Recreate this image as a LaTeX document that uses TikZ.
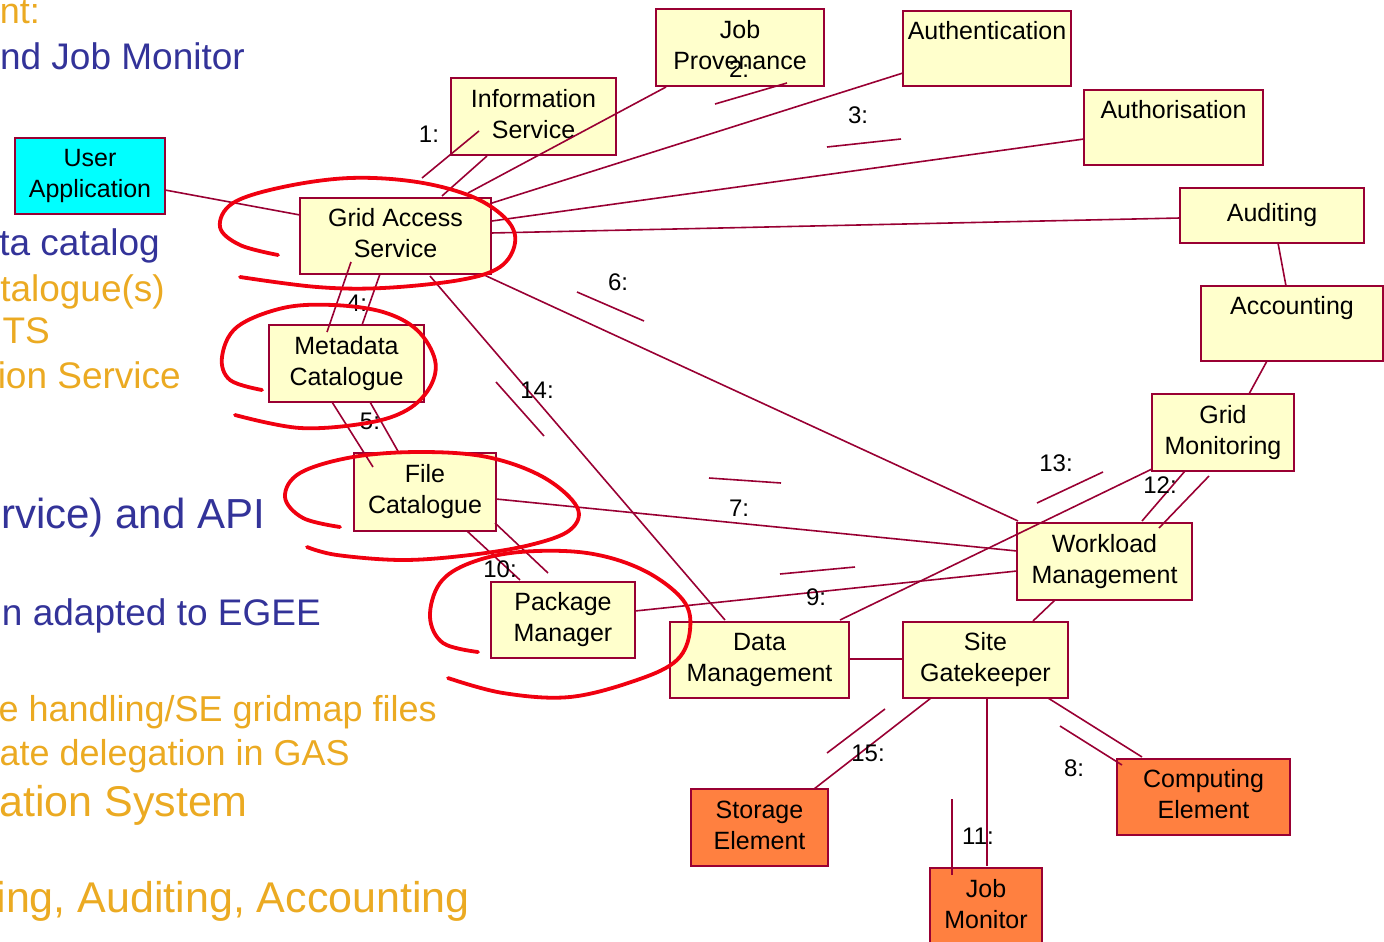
\documentclass[tikz,border=0pt]{standalone}
\usepackage{fontspec}
\setmainfont{Liberation Sans}
\usetikzlibrary{calc}
\definecolor{boxfill}{HTML}{FFFFCC}
\definecolor{wire}{HTML}{990033}
\definecolor{appcyan}{HTML}{00FFFF}
\definecolor{hostorange}{HTML}{FF8040}
\definecolor{slideblue}{HTML}{333399}
\definecolor{slideorange}{HTML}{EBAA22}
\definecolor{pen}{HTML}{F00010}
\newcommand{\tstrut}{\rule{0pt}{18pt}}
\newcommand{\bstrut}{\rule[-6pt]{0pt}{6pt}}
\begin{document}
\begin{tikzpicture}[x=1pt,y=-1pt,
  comp/.style={draw=wire, line width=2pt, fill=boxfill, anchor=north west,
    align=center, inner sep=0pt, outer sep=0pt,
    font=\fontsize{25}{31}\selectfont},
  app/.style={comp, fill=appcyan},
  res/.style={comp, fill=hostorange},
  link/.style={draw=wire, line width=1.6pt},
  msg/.style={draw=wire, line width=1.6pt},
  seq/.style={font=\fontsize{24}{28}\selectfont, inner sep=0pt},
  ring/.style={draw=pen, line width=3.8pt, line cap=round, line join=round},
  slidetxt/.style={anchor=base east, inner sep=0pt}]
\useasboundingbox (0,0) rectangle (1384,942);
\clip (0,0) rectangle (1384,942);

% bullet text of the slide, running off the left edge
\node[slidetxt, text=slideorange, font=\fontsize{36}{40}\selectfont] (s1) at (40,24) {nt:};
\node[slidetxt, text=slideblue, font=\fontsize{37}{42}\selectfont] (s2) at (245,70) {nd Job Monitor};
\node[slidetxt, text=slideblue, font=\fontsize{37}{42}\selectfont] (s3) at (160,255) {ta catalog};
\node[slidetxt, text=slideorange, font=\fontsize{37}{42}\selectfont] (s4) at (165,301) {talogue(s)};
\node[slidetxt, text=slideorange, font=\fontsize{37}{42}\selectfont] (s5) at (50,343) {TS};
\node[slidetxt, text=slideorange, font=\fontsize{37}{42}\selectfont] (s6) at (181,388) {ion Service};
\node[slidetxt, text=slideblue, font=\fontsize{42}{48}\selectfont] (s7) at (265,528) {rvice) and API};
\node[slidetxt, text=slideblue, font=\fontsize{37}{42}\selectfont] (s8) at (321,625) {n adapted to EGEE};
\node[slidetxt, text=slideorange, font=\fontsize{36}{40}\selectfont] (s9) at (437,721) {e handling/SE gridmap files};
\node[slidetxt, text=slideorange, font=\fontsize{36}{40}\selectfont] (s10) at (350,765) {ate delegation in GAS};
\node[slidetxt, text=slideorange, font=\fontsize{43}{48}\selectfont] (s11) at (248,816) {ation System};
\node[slidetxt, text=slideorange, font=\fontsize{43}{48}\selectfont] (s12) at (470,912) {ing, Auditing, Accounting};

% components
\node[app, minimum width=150pt, minimum height=76pt] (ua) at (15,138) {\tstrut User\\Application\bstrut};
\node[comp, minimum width=165pt, minimum height=77pt] (info) at (451,78) {\tstrut Information\\Service\bstrut};
\node[comp, minimum width=168pt, minimum height=77pt] (jp) at (656,9) {\tstrut Job\\Provenance\bstrut};
\node[comp, minimum width=168pt, minimum height=75pt] (authn) at (903,11) {\tstrut Authentication\\\bstrut};
\node[comp, minimum width=179pt, minimum height=75pt] (authz) at (1084,90) {\tstrut Authorisation\\\bstrut};
\node[comp, minimum width=184pt, minimum height=55pt] (audit) at (1180,188) {\tstrut Auditing\bstrut};
\node[comp, minimum width=182pt, minimum height=75pt] (acct) at (1201,286) {\tstrut Accounting\\\bstrut};
\node[comp, minimum width=142pt, minimum height=77pt] (gm) at (1152,394) {\tstrut Grid\\Monitoring\bstrut};
\node[comp, minimum width=191pt, minimum height=76pt] (gas) at (300,198) {\tstrut Grid Access\\Service\bstrut};
\node[comp, minimum width=155pt, minimum height=77pt] (mc) at (269,325) {\tstrut Metadata\\Catalogue\bstrut};
\node[comp, minimum width=142pt, minimum height=78pt] (fc) at (354,453) {\tstrut File\\Catalogue\bstrut};
\node[comp, minimum width=144pt, minimum height=76pt] (pm) at (491,582) {\tstrut Package\\Manager\bstrut};
\node[comp, minimum width=175pt, minimum height=77pt] (wm) at (1017,523) {\tstrut Workload\\Management\bstrut};
\node[comp, minimum width=179pt, minimum height=76pt] (dm) at (670,622) {\tstrut Data\\Management\bstrut};
\node[comp, minimum width=165pt, minimum height=76pt] (sg) at (903,622) {\tstrut Site\\Gatekeeper\bstrut};
\node[res, minimum width=137pt, minimum height=77pt] (se) at (691,789) {\tstrut Storage\\Element\bstrut};
\node[res, minimum width=173pt, minimum height=76pt] (ce) at (1117,759) {\tstrut Computing\\Element\bstrut};
\node[res, minimum width=112pt, minimum height=77pt] (jm) at (930,868) {\tstrut Job\\Monitor\bstrut};

% links between components
\draw[link] ($(ua.north east)+(0,52)$) -- ($(gas.north west)+(0,17)$);
\draw[link] ($(gas.north west)+(142,-2)$) -- ($(info.south west)+(36,1)$);
\draw[link] ($(gas.north west)+(168,-5)$) -- ($(jp.south west)+(10,1)$);
\draw[link] ($(gas.north east)+(1,5)$) -- ($(authn.south west)+(0,-13)$);
\draw[link] ($(gas.north east)+(1,23)$) -- ($(authz.south west)+(0,-26)$);
\draw[link] ($(gas.north east)+(0,35)$) -- ($(audit.south west)+(0,-25)$);
\draw[link] ($(audit.south west)+(98,0)$) -- ($(acct.north west)+(85,0)$);
\draw[link] ($(acct.south west)+(66,0)$) -- ($(gm.north west)+(97,0)$);
\draw[link] ($(gas.south west)+(182,0)$) -- ($(wm.north west)+(1,-2)$);
\draw[link] ($(gas.south west)+(130,2)$) -- ($(dm.north west)+(55,-2)$);
\draw[link] ($(gas.south west)+(80,0)$) -- ($(mc.north west)+(93,0)$);
\draw[link] ($(mc.south west)+(101,0)$) -- ($(fc.north west)+(45,0)$);
\draw[link] ($(fc.south west)+(113,0)$) -- ($(pm.north west)+(29,-2)$);
\draw[link] ($(fc.north east)+(0,46)$) -- ($(wm.north west)+(0,28)$);
\draw[link] ($(pm.north east)+(0,29)$) -- ($(wm.north west)+(0,48)$);
\draw[link] ($(dm.north west)+(170,-2)$) -- ($(gm.south west)+(0,-2)$);
\draw[link] ($(wm.north west)+(125,-2)$) -- ($(gm.south west)+(33,0)$);
\draw[link] ($(wm.south west)+(38,0)$) -- ($(sg.north west)+(130,-1)$);
\draw[link] ($(dm.north east)+(0,37)$) -- ($(sg.north west)+(0,37)$);
\draw[link] ($(sg.south west)+(28,0)$) -- ($(se.north west)+(123,0)$);
\draw[link] ($(sg.south west)+(84,0)$) -- ($(jm.north west)+(57,-2)$);
\draw[link] ($(sg.south west)+(145,0)$) -- ($(ce.north west)+(25,-2)$);

% message strokes beside the links
\coordinate (m1a) at (422,178);   \coordinate (m1b) at (479,131);
\coordinate (m2a) at (715,104);   \coordinate (m2b) at (787,83);
\coordinate (m3a) at (827,147);   \coordinate (m3b) at (901,139);
\coordinate (m4a) at (351,262);   \coordinate (m4b) at (327,332);
\coordinate (m5a) at (332,402);   \coordinate (m5b) at (373,467);
\coordinate (m6a) at (577,292);   \coordinate (m6b) at (644,321);
\coordinate (m7a) at (709,478);   \coordinate (m7b) at (781,483);
\coordinate (m8a) at (1060,726);  \coordinate (m8b) at (1122,765);
\coordinate (m9a) at (780,574);   \coordinate (m9b) at (855,567);
\coordinate (m10a) at (495,523);  \coordinate (m10b) at (548,573);
\coordinate (m11a) at (952,799);  \coordinate (m11b) at (952,875);
\coordinate (m12a) at (1159,528); \coordinate (m12b) at (1209,476);
\coordinate (m13a) at (1037,503); \coordinate (m13b) at (1103,472);
\coordinate (m14a) at (496,382);  \coordinate (m14b) at (544,436);
\coordinate (m15a) at (885,709);  \coordinate (m15b) at (827,753);
\foreach \k in {1,...,15} { \draw[msg] (m\k a) -- (m\k b); }

% sequence numbers
\node[seq] (n1) at (429,134) {1:};
\node[seq] (n2) at (739,69) {2:};
\node[seq] (n3) at (858,115) {3:};
\node[seq] (n4) at (357,303) {4:};
\node[seq] (n5) at (370,421) {5:};
\node[seq] (n6) at (618,282) {6:};
\node[seq] (n7) at (739,508) {7:};
\node[seq] (n8) at (1074,768) {8:};
\node[seq] (n9) at (816,597) {9:};
\node[seq] (n10) at (500,569) {10:};
\node[seq] (n11) at (978,836) {11:};
\node[seq] (n12) at (1160,485) {12:};
\node[seq] (n13) at (1056,463) {13:};
\node[seq] (n14) at (537,390) {14:};
\node[seq] (n15) at (868,753) {15:};

% hand-drawn red loops
\draw[ring] plot[smooth, tension=0.6] coordinates {(278,255) (240,245) (220,227) (233,203) (283,187) (350,178) (417,182) (473,197) (507,220) (515,243) (500,267) (460,280) (383,288) (317,287) (240,277)};
\draw[ring] plot[smooth, tension=0.6] coordinates {(262,390) (230,380) (222,357) (237,327) (283,308) (333,305) (383,312) (417,330) (435,360) (430,387) (407,410) (367,423) (300,428) (235,415)};
\draw[ring] plot[smooth, tension=0.6] coordinates {(340,527) (303,518) (285,497) (300,473) (353,457) (420,452) (487,457) (543,477) (577,507) (570,530) (530,545) (470,555) (403,560) (337,555) (307,547)};
\draw[ring] plot[smooth, tension=0.6] coordinates {(478,652) (443,643) (430,617) (440,583) (470,563) (520,552) (587,553) (643,570) (683,600) (690,630) (677,660) (637,680) (570,697) (503,693) (448,678)};
\end{tikzpicture}
\end{document}
